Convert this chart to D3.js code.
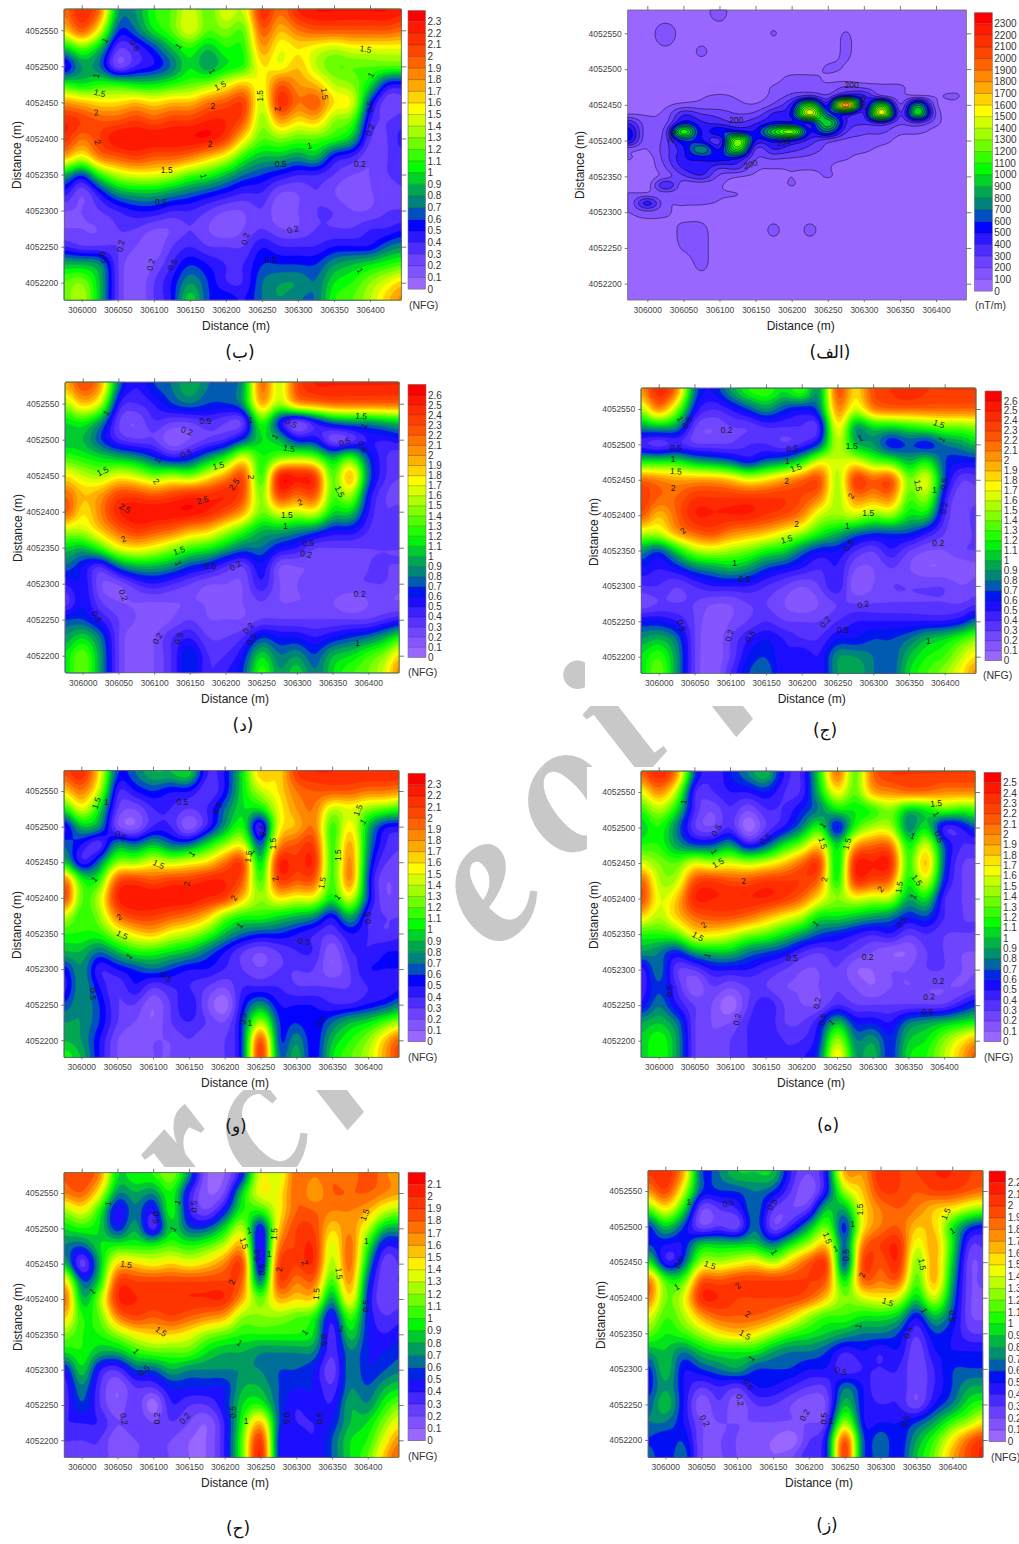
<!DOCTYPE html>
<html><head><meta charset="utf-8">
<script src="https://cdn.jsdelivr.net/npm/d3@7/dist/d3.min.js"></script>
<style>html,body{margin:0;padding:0;background:#fff;overflow:hidden}svg{display:block}</style>
</head><body><svg id="c" width="1019" height="1544"></svg>
<script>
const eastings=[305975,306000,306025,306050,306075,306100,306125,306150,306175,306200,306225,306250,306275,306300,306325,306350,306375,306400,306425,306450];
const northings=[4052575,4052550,4052525,4052500,4052475,4052450,4052425,4052400,4052375,4052350,4052325,4052300,4052275,4052250,4052225,4052200,4052175];
const magNorthings=[4052575,4052550,4052525,4052500,4052487.5,4052475,4052462.5,4052450,4052437.5,4052425,4052412.5,4052400,4052387.5,4052375,4052362.5,4052350,4052337.5,4052325,4052312.5,4052300,4052275,4052250,4052225,4052200,4052175];
const xTicks=[306000,306050,306100,306150,306200,306250,306300,306350,306400];
const yTicks=[4052200,4052250,4052300,4052350,4052400,4052450,4052500,4052550];
const stopFractions=[0,0.09,0.17,0.22,0.26,0.30,0.35,0.435,0.55,0.65,0.74,0.85,0.93,1];
const stopColors=["#9966ff","#6a40ff","#3018ff","#0000ff","#0050c0","#008080","#00a850","#00ff00","#90ff00","#ffff00","#ffa800","#ff5000","#ff2800","#ff0000"];
const watermarkLetters=["r","c","h","v","e","o","i","f"];
const watermarkAnchors=[[190,1160],[262,1132],[345,1062],[392,985],[490,892],[568,800],[622,730],[692,655]];

const gridB=[
[1.9,2.2,1.9,0.8,0.8,1.1,1.2,1.5,1.2,1.5,1.4,2.2,1.9,2.2,2.3,2.3,2.3,2.3,2.3,2.2],
[1.6,2.0,1.5,0.6,0.7,1.0,1.2,1.5,1.2,1.3,1.2,2.0,1.7,1.9,2.0,2.0,2.0,2.0,2.0,1.9],
[0.9,1.2,0.9,0.3,0.4,0.6,0.9,1.1,0.9,1.1,1.1,1.8,1.5,1.6,1.5,1.4,1.5,1.5,1.5,1.5],
[0.4,0.8,0.7,0.2,0.4,0.5,0.7,1.0,0.8,1.0,1.1,1.6,1.5,1.7,1.4,1.2,1.2,1.2,1.2,1.2],
[1.1,1.0,1.1,1.1,1.0,1.0,1.1,1.2,1.3,1.5,1.7,1.5,2.0,1.8,1.7,1.4,1.3,1.0,0.5,0.5],
[1.8,1.7,1.6,1.6,1.7,1.6,1.7,1.7,1.9,2.0,2.1,1.4,2.2,1.9,2.0,1.6,1.5,0.6,0.2,0.3],
[2.2,2.1,2.0,2.0,2.1,2.0,2.1,2.1,2.2,2.2,2.0,1.3,1.8,1.6,1.7,1.3,1.2,0.4,0.3,0.4],
[2.2,1.9,2.1,2.3,2.3,2.3,2.3,2.3,2.3,2.1,1.6,1.2,1.3,1.2,1.2,1.1,0.9,0.3,0.3,0.5],
[1.8,1.5,1.9,2.0,2.1,2.0,2.0,1.9,1.7,1.5,1.1,0.9,0.9,0.8,0.9,0.5,0.4,0.2,0.3,0.4],
[0.9,0.6,1.1,1.4,1.5,1.5,1.4,1.2,1.1,0.9,0.7,0.6,0.5,0.4,0.4,0.3,0.2,0.2,0.3,0.4],
[0.5,0.2,0.5,0.8,0.9,0.9,0.8,0.7,0.6,0.5,0.4,0.4,0.2,0.2,0.3,0.2,0.1,0.2,0.2,0.3],
[0.2,0.2,0.3,0.4,0.5,0.5,0.4,0.4,0.3,0.2,0.2,0.3,0.1,0.2,0.3,0.3,0.2,0.2,0.3,0.3],
[0.2,0.2,0.2,0.3,0.3,0.2,0.2,0.3,0.2,0.1,0.2,0.3,0.2,0.2,0.3,0.3,0.3,0.4,0.4,0.5],
[0.4,0.3,0.3,0.3,0.2,0.1,0.3,0.4,0.3,0.3,0.3,0.5,0.4,0.4,0.4,0.5,0.5,0.5,0.7,0.8],
[0.9,0.9,0.8,0.3,0.1,0.2,0.4,0.6,0.5,0.4,0.4,0.6,0.6,0.6,0.6,0.8,0.9,1.0,1.1,1.2],
[1.2,1.3,0.9,0.3,0.1,0.3,0.5,0.8,0.6,0.4,0.4,0.7,0.8,0.8,0.7,1.0,1.1,1.3,1.5,1.7],
[1.2,1.4,0.9,0.3,0.1,0.3,0.5,1.0,0.6,0.6,0.5,0.7,0.8,0.7,0.7,1.1,1.2,1.4,1.7,1.9]];
const gridD=[
[1.9,2.3,2.0,0.8,0.5,0.7,0.8,1.0,0.8,0.8,0.9,2.2,1.6,2.3,2.5,2.5,2.5,2.5,2.5,2.5],
[1.5,1.9,1.6,0.5,0.4,0.5,0.7,0.8,0.7,0.7,0.9,2.0,1.5,2.0,2.1,2.2,2.2,2.2,2.2,2.2],
[1.1,1.2,0.9,0.3,0.2,0.4,0.3,0.3,0.4,0.3,0.3,1.3,0.6,0.2,0.5,0.8,0.9,0.9,1.0,1.1],
[1.0,1.0,0.7,0.4,0.3,0.3,0.1,0.2,0.3,0.4,0.7,1.1,1.0,0.6,0.6,0.2,0.3,0.5,0.5,0.6],
[1.3,1.2,1.1,1.0,0.9,0.7,0.5,0.6,0.9,1.2,1.7,1.2,1.4,1.5,1.4,1.0,1.3,0.7,0.4,0.3],
[1.8,1.6,1.5,1.7,1.6,1.4,1.5,1.4,1.7,2.0,2.3,1.2,2.5,2.5,2.4,1.3,2.0,0.8,0.4,0.3],
[2.2,1.9,2.0,2.3,2.3,2.2,2.3,2.4,2.4,2.5,2.3,1.4,2.4,2.2,2.3,1.3,1.6,0.6,0.3,0.2],
[2.3,1.8,2.1,2.5,2.6,2.6,2.6,2.6,2.5,2.3,2.0,1.4,1.7,1.6,1.7,1.1,1.1,0.5,0.3,0.4],
[1.6,1.6,1.9,2.2,2.4,2.3,2.2,2.0,1.9,1.6,1.3,1.0,1.0,0.9,0.8,0.6,0.6,0.4,0.3,0.4],
[1.1,1.0,1.3,1.7,1.8,1.7,1.5,1.3,1.2,1.0,0.8,0.8,0.6,0.5,0.3,0.3,0.3,0.3,0.3,0.3],
[0.8,0.6,0.4,0.8,1.0,1.0,0.9,0.7,0.6,0.4,0.3,0.6,0.2,0.2,0.2,0.2,0.2,0.3,0.3,0.3],
[0.5,0.6,0.2,0.2,0.4,0.5,0.4,0.3,0.2,0.2,0.2,0.5,0.2,0.2,0.3,0.3,0.3,0.3,0.3,0.2],
[0.3,0.6,0.3,0.2,0.2,0.2,0.2,0.2,0.2,0.2,0.2,0.3,0.2,0.2,0.2,0.2,0.1,0.2,0.2,0.2],
[0.7,0.7,0.5,0.3,0.2,0.1,0.2,0.3,0.2,0.2,0.2,0.3,0.3,0.3,0.3,0.3,0.3,0.3,0.4,0.5],
[0.9,1.1,0.8,0.3,0.1,0.2,0.4,0.5,0.3,0.3,0.4,0.7,0.6,0.6,0.5,0.6,0.7,0.8,1.0,1.3],
[1.1,1.4,0.9,0.3,0.1,0.2,0.4,0.7,0.4,0.4,0.6,1.1,0.8,0.9,0.7,1.0,1.1,1.3,1.5,2.0],
[1.1,1.4,0.9,0.3,0.1,0.2,0.4,0.7,0.4,0.5,0.7,1.3,0.9,1.1,0.8,1.1,1.3,1.4,1.7,2.3]];
const gridJ=[
[2.0,2.5,2.1,0.8,0.6,0.9,1.2,1.3,1.1,1.3,0.9,2.3,1.8,2.3,2.4,2.5,2.4,2.4,2.4,2.4],
[1.5,2.1,1.5,0.6,0.4,0.5,0.7,0.9,0.7,0.6,0.8,2.1,1.6,2.1,2.2,2.2,2.2,2.2,2.2,2.2],
[0.9,1.0,0.9,0.3,0.2,0.3,0.3,0.4,0.4,0.4,0.4,1.8,0.9,1.1,1.1,1.2,1.3,1.4,1.4,1.5],
[0.4,0.3,0.4,0.3,0.3,0.3,0.4,0.4,0.3,0.4,0.7,1.6,1.0,0.9,0.6,0.7,0.6,0.8,0.9,1.1],
[1.2,1.2,1.2,1.0,0.9,0.8,0.6,0.8,0.9,1.2,1.7,1.6,1.7,1.4,1.3,1.0,1.2,0.7,0.6,0.6],
[2.2,2.1,2.0,2.0,2.0,1.9,1.7,1.8,2.0,2.2,2.3,1.5,2.4,2.2,2.3,1.4,1.7,0.7,0.3,0.4],
[2.4,2.2,2.2,2.4,2.4,2.4,2.4,2.4,2.4,2.3,2.1,1.5,2.1,2.0,2.1,1.3,1.5,0.5,0.2,0.3],
[2.3,1.9,2.2,2.5,2.5,2.5,2.5,2.4,2.3,2.1,1.6,1.5,1.6,1.4,1.5,1.1,1.1,0.4,0.2,0.5],
[1.6,1.6,2.0,2.2,2.3,2.1,2.0,1.9,1.7,1.5,1.2,1.0,0.8,0.7,0.7,0.7,0.5,0.3,0.2,0.4],
[0.9,0.7,1.1,1.5,1.6,1.5,1.4,1.2,1.1,0.8,0.6,0.6,0.4,0.3,0.5,0.3,0.2,0.2,0.3,0.3],
[0.6,0.5,0.6,0.8,0.9,1.0,0.9,0.7,0.6,0.5,0.4,0.5,0.2,0.2,0.3,0.2,0.1,0.1,0.1,0.2],
[0.4,0.4,0.3,0.4,0.5,0.5,0.5,0.4,0.3,0.2,0.3,0.5,0.1,0.2,0.3,0.3,0.3,0.3,0.2,0.3],
[0.2,0.3,0.3,0.3,0.2,0.2,0.3,0.3,0.2,0.1,0.2,0.3,0.3,0.3,0.3,0.3,0.3,0.3,0.3,0.4],
[0.6,0.6,0.5,0.3,0.1,0.2,0.3,0.4,0.3,0.3,0.3,0.4,0.5,0.5,0.5,0.5,0.5,0.5,0.6,0.9],
[0.9,1.0,0.8,0.3,0.1,0.3,0.5,0.6,0.5,0.4,0.4,0.6,0.6,0.7,0.7,0.8,1.0,1.1,1.3,1.5],
[1.1,1.3,0.9,0.3,0.1,0.3,0.6,0.7,0.5,0.6,0.5,0.9,0.9,0.8,0.7,1.0,1.2,1.3,1.6,1.9],
[1.1,1.4,0.9,0.3,0.1,0.4,0.7,0.8,0.5,0.6,0.5,0.9,1.0,0.8,0.7,1.1,1.3,1.5,1.8,2.2]];
const gridH=[
[2.1,2.4,2.0,0.7,0.4,0.6,0.8,1.0,0.5,0.4,1.1,2.1,1.3,2.1,2.3,2.3,2.3,2.3,2.3,2.3],
[1.6,2.0,1.5,0.4,0.4,0.5,0.5,0.6,0.4,0.4,1.0,1.7,1.3,1.9,2.0,2.1,2.1,2.0,2.0,2.0],
[1.2,1.5,1.1,0.4,0.2,0.4,0.2,0.4,0.4,0.6,0.8,1.1,1.1,1.2,1.4,1.0,1.1,1.3,1.2,1.3],
[1.0,1.2,0.8,0.3,0.2,0.4,0.0,0.3,0.5,0.8,1.2,0.5,1.2,1.5,1.5,0.8,1.1,0.4,0.5,0.8],
[1.2,1.2,0.9,0.7,0.7,0.9,0.5,0.7,1.1,1.4,1.8,1.0,1.9,2.1,2.1,1.1,1.6,0.7,0.4,0.4],
[1.6,1.4,1.3,1.6,1.5,1.6,1.5,1.6,1.8,2.1,2.3,1.0,2.4,2.4,2.4,1.2,1.9,0.7,0.3,0.3],
[2.2,1.5,1.5,2.2,2.3,2.2,2.2,2.3,2.3,2.3,2.1,1.1,2.3,2.2,2.1,1.1,1.6,0.6,0.3,0.2],
[2.3,1.6,1.8,2.4,2.4,2.4,2.4,2.4,2.3,2.1,1.7,1.4,1.6,1.5,1.5,0.9,1.1,0.4,0.3,0.3],
[1.8,1.5,1.8,2.1,2.2,2.2,2.1,1.9,1.7,1.5,1.1,1.1,1.0,0.9,0.8,0.6,0.7,0.4,0.3,0.3],
[1.2,1.2,1.3,1.7,1.7,1.6,1.4,1.3,1.1,0.9,0.7,0.6,0.5,0.4,0.5,0.3,0.4,0.3,0.3,0.3],
[0.9,0.8,0.6,0.9,1.0,1.0,0.8,0.7,0.6,0.4,0.3,0.4,0.3,0.2,0.1,0.1,0.3,0.3,0.2,0.2],
[0.4,0.8,0.3,0.3,0.5,0.5,0.5,0.4,0.3,0.2,0.2,0.3,0.1,0.1,0.2,0.2,0.3,0.3,0.2,0.2],
[0.4,0.7,0.4,0.1,0.3,0.2,0.3,0.3,0.2,0.2,0.2,0.3,0.2,0.1,0.2,0.2,0.2,0.2,0.2,0.3],
[0.5,0.8,0.5,0.3,0.2,0.0,0.3,0.5,0.3,0.2,0.2,0.4,0.3,0.3,0.3,0.3,0.3,0.3,0.5,0.7],
[0.9,1.0,0.8,0.3,0.2,0.2,0.4,0.5,0.3,0.3,0.5,1.0,0.6,0.6,0.5,0.8,0.9,1.0,1.1,1.2],
[1.0,1.2,0.9,0.3,0.2,0.3,0.4,0.5,0.4,0.4,0.6,1.5,0.8,0.9,0.6,1.0,1.1,1.4,1.7,2.0],
[1.0,1.2,0.9,0.3,0.2,0.3,0.4,0.5,0.4,0.5,0.7,1.8,0.9,1.0,0.6,1.1,1.2,1.5,1.9,2.3]];
const gridV=[
[2.0,2.2,1.6,0.6,0.7,0.9,0.9,1.0,0.4,0.5,1.0,1.7,1.6,2.1,2.2,2.2,2.2,2.2,2.2,2.2],
[1.6,1.9,1.4,0.4,0.5,0.6,0.5,0.5,0.3,0.5,1.0,1.4,1.6,1.9,2.0,2.0,2.0,1.9,1.9,1.8],
[1.0,1.5,1.0,0.3,0.2,0.4,0.4,0.3,0.4,0.7,1.0,1.0,1.5,1.8,1.9,1.4,1.5,1.3,1.2,1.1],
[0.4,0.9,0.8,0.2,0.1,0.4,0.4,0.1,0.4,0.8,1.1,0.3,1.5,1.7,1.9,1.1,1.6,0.9,0.5,0.5],
[0.7,0.5,0.3,0.8,0.7,0.9,0.7,0.7,1.0,1.3,1.5,0.6,1.8,2.0,2.1,1.1,1.8,0.8,0.4,0.3],
[1.0,0.4,0.7,1.3,1.3,1.5,1.4,1.5,1.6,1.9,2.1,0.9,2.2,2.1,2.2,1.1,1.9,0.7,0.3,0.3],
[2.0,1.1,1.1,2.0,2.1,2.0,2.1,2.1,2.2,2.2,2.0,1.1,2.1,2.0,2.0,1.1,1.9,0.6,0.2,0.3],
[2.2,1.2,1.4,2.2,2.3,2.3,2.3,2.3,2.2,2.1,1.7,1.3,1.6,1.5,1.5,1.0,1.5,0.6,0.2,0.3],
[1.5,1.1,1.3,1.9,2.1,2.1,2.0,1.9,1.7,1.3,1.1,1.1,1.0,0.9,0.8,0.5,0.9,0.4,0.3,0.3],
[1.1,1.1,1.1,1.4,1.6,1.7,1.5,1.4,1.2,0.9,0.7,0.6,0.6,0.5,0.4,0.3,0.5,0.4,0.3,0.4],
[0.9,0.9,0.7,0.9,1.1,1.1,1.0,0.9,0.7,0.5,0.3,0.2,0.3,0.4,0.4,0.1,0.4,0.4,0.5,0.5],
[0.5,0.8,0.4,0.5,0.6,0.7,0.6,0.5,0.5,0.4,0.3,0.2,0.3,0.3,0.3,0.1,0.3,0.5,0.5,0.5],
[0.4,0.8,0.5,0.3,0.5,0.3,0.4,0.4,0.3,0.2,0.4,0.4,0.4,0.3,0.3,0.3,0.3,0.4,0.4,0.5],
[0.6,0.8,0.6,0.3,0.3,0.1,0.3,0.5,0.2,0.0,0.5,0.8,0.5,0.5,0.5,0.4,0.4,0.5,0.6,0.8],
[0.8,0.8,0.6,0.3,0.2,0.1,0.3,0.4,0.3,0.2,0.6,1.4,0.6,0.6,0.5,0.7,0.9,1.0,1.2,1.4],
[0.9,0.8,0.5,0.2,0.1,0.2,0.2,0.3,0.2,0.3,0.6,2.1,0.6,0.8,0.5,0.9,1.1,1.3,1.7,2.1],
[1.1,0.9,0.5,0.2,0.1,0.2,0.2,0.3,0.2,0.3,0.6,2.2,0.7,0.9,0.5,1.0,1.2,1.4,1.8,2.2]];
const gridZ=[
[2.0,2.1,1.7,0.6,0.7,0.9,0.9,0.9,0.4,0.2,0.5,1.7,1.7,2.1,2.0,2.0,2.1,2.1,2.0,2.0],
[1.7,2.0,1.4,0.6,0.6,0.6,0.7,0.6,0.3,0.1,0.5,1.3,1.6,2.0,2.0,1.9,2.0,2.0,1.9,1.8],
[1.1,1.5,1.0,0.2,0.3,0.4,0.7,0.3,0.2,0.3,0.9,0.8,1.5,1.8,1.9,1.8,1.6,1.5,1.3,1.2],
[0.5,0.9,0.6,0.2,0.3,0.2,0.7,0.2,0.4,0.8,1.2,0.5,1.5,1.8,1.9,1.6,1.6,1.0,0.6,0.5],
[0.6,0.5,0.5,0.9,0.9,0.9,0.9,0.7,1.0,1.3,1.6,0.6,1.8,2.0,2.1,1.4,1.7,1.0,0.3,0.4],
[1.1,0.4,0.6,1.3,1.3,1.4,1.5,1.3,1.6,1.9,2.0,0.5,2.0,1.9,2.1,1.2,1.7,0.9,0.2,0.3],
[1.9,1.1,1.1,1.9,1.9,2.0,2.0,2.0,2.0,2.0,1.9,0.9,1.9,1.8,1.9,1.1,1.7,0.8,0.2,0.3],
[1.9,1.2,1.4,2.1,2.1,2.0,2.0,2.0,2.0,1.9,1.6,1.2,1.4,1.5,1.4,0.9,1.4,0.7,0.2,0.2],
[1.5,1.1,1.3,1.7,1.9,1.9,1.9,1.8,1.6,1.3,1.1,1.1,1.0,1.0,0.9,0.5,0.9,0.6,0.2,0.2],
[1.2,1.0,1.1,1.3,1.5,1.6,1.5,1.3,1.1,1.0,0.9,0.8,0.7,0.7,0.6,0.3,0.6,0.5,0.3,0.3],
[0.8,0.9,0.7,0.9,1.0,1.0,1.0,0.8,0.7,0.7,0.6,0.4,0.5,0.4,0.5,0.2,0.5,0.5,0.5,0.5],
[0.5,0.9,0.5,0.6,0.7,0.8,0.6,0.6,0.6,0.5,0.5,0.3,0.4,0.4,0.4,0.2,0.4,0.6,0.6,0.6],
[0.5,0.8,0.5,0.3,0.4,0.3,0.5,0.5,0.4,0.3,0.3,0.7,0.5,0.3,0.4,0.2,0.4,0.6,0.8,0.8],
[0.6,0.9,0.5,0.1,0.3,0.1,0.3,0.3,0.2,0.1,0.2,0.9,0.5,0.4,0.4,0.2,0.5,0.7,1.0,1.1],
[0.7,0.7,0.5,0.2,0.2,0.2,0.2,0.2,0.2,0.2,0.3,1.3,0.5,0.5,0.5,0.6,0.8,1.1,1.3,1.6],
[0.6,0.5,0.6,0.2,0.2,0.2,0.1,0.1,0.0,0.3,0.5,2.0,0.6,0.7,0.5,0.8,1.1,1.5,1.9,2.1],
[0.7,0.5,0.7,0.2,0.2,0.2,0.2,0.1,0.2,0.4,0.5,2.1,0.6,0.7,0.5,0.9,1.2,1.7,2.0,2.2]];
const gridC=[
[1.8,1.9,1.7,0.9,1.0,1.0,1.2,0.7,0.1,0.1,0.5,1.4,1.3,1.8,1.7,1.8,1.7,1.9,1.7,1.7],
[1.7,1.8,1.4,0.7,0.8,0.7,1.0,0.4,0.1,0.2,0.9,1.4,1.4,1.8,1.6,1.8,1.8,1.8,1.7,1.6],
[1.2,1.4,1.0,0.4,0.7,0.4,1.0,0.4,0.2,0.5,1.0,1.0,1.4,1.8,1.8,1.7,1.7,1.6,1.3,1.2],
[0.9,1.0,0.9,0.5,0.8,0.3,0.9,0.6,0.6,0.9,1.3,0.4,1.5,1.9,1.9,1.5,1.7,1.3,0.8,0.8],
[0.7,0.6,0.9,1.0,1.0,1.0,1.1,1.0,1.1,1.3,1.6,0.3,1.7,1.9,2.0,1.3,1.8,1.0,0.4,0.5],
[0.9,0.2,0.8,1.5,1.5,1.4,1.5,1.4,1.5,1.7,1.9,0.3,1.9,1.9,2.0,1.2,1.8,0.8,0.2,0.4],
[1.6,0.6,0.9,1.9,1.9,1.9,1.9,1.9,1.9,1.9,1.8,0.6,1.9,1.7,1.8,1.0,1.7,0.6,0.2,0.4],
[1.9,0.8,1.2,2.0,2.0,2.0,2.0,2.0,2.0,2.0,1.6,1.1,1.6,1.5,1.5,0.7,1.5,0.5,0.2,0.3],
[1.6,1.0,1.1,1.7,1.9,1.8,1.9,1.8,1.7,1.6,1.2,1.2,1.2,1.1,1.0,0.4,1.1,0.5,0.3,0.4],
[1.2,1.0,1.0,1.2,1.4,1.5,1.5,1.4,1.2,1.1,1.0,1.0,1.0,1.0,0.9,0.3,0.9,0.5,0.4,0.5],
[0.9,1.0,0.8,0.8,1.0,1.1,1.1,1.1,0.9,0.8,0.8,0.7,0.7,0.7,0.7,0.3,0.7,0.5,0.5,0.6],
[0.4,0.9,0.4,0.3,0.6,0.6,0.8,0.7,0.7,0.7,0.7,0.7,0.6,0.6,0.5,0.2,0.7,0.5,0.6,0.7],
[0.3,0.7,0.3,0.1,0.3,0.3,0.5,0.5,0.5,0.5,0.8,0.8,0.6,0.5,0.5,0.3,0.7,0.6,0.8,0.9],
[0.3,0.6,0.3,0.1,0.3,0.0,0.4,0.3,0.3,0.5,0.9,1.0,0.6,0.4,0.5,0.4,0.8,0.7,1.0,1.2],
[0.4,0.4,0.4,0.2,0.3,0.2,0.3,0.2,0.1,0.4,1.0,1.6,0.6,0.4,0.4,0.5,0.8,0.9,1.2,1.5],
[0.3,0.3,0.3,0.1,0.2,0.2,0.2,0.1,0.1,0.4,1.1,2.0,0.5,0.5,0.4,0.6,0.9,1.0,1.4,1.8],
[0.3,0.2,0.3,0.1,0.2,0.2,0.2,0.1,0.1,0.4,1.1,2.1,0.5,0.5,0.4,0.6,0.9,1.1,1.6,1.9]];
const gridA=[
[70,40,40,40,60,125,40,40,40,40,40,40,40,40,40,40,40,40,40,40],
[40,40,170,40,40,40,40,40,105,40,40,40,105,40,40,40,40,40,40,40],
[40,40,70,40,115,40,40,40,40,40,40,40,115,40,40,40,40,40,40,40],
[40,40,40,40,40,40,40,40,40,40,40,115,90,40,40,40,40,40,40,40],
[40,40,40,40,40,40,40,40,60,130,130,80,60,40,40,40,40,40,40,40],
[40,40,40,40,40,50,50,50,110,150,140,130,210,170,130,120,40,40,40,105],
[50,40,40,50,90,110,90,60,130,230,320,220,500,420,200,120,110,90,120,40],
[60,50,80,130,130,140,120,110,220,450,1100,480,1900,450,1100,200,800,130,60,40],
[90,90,130,380,300,260,200,230,420,550,1500,650,550,400,1500,300,1000,190,40,40],
[380,130,170,550,420,360,300,380,520,520,520,1000,420,320,420,220,300,130,40,40],
[550,130,260,1100,500,600,560,520,1000,1300,520,700,320,220,220,130,130,60,40,40],
[500,110,260,600,520,360,1300,500,540,520,360,240,170,170,150,60,40,40,40,40],
[130,100,260,480,800,500,1100,280,400,340,260,170,130,130,60,40,40,40,40,40],
[110,50,250,480,520,550,500,210,210,190,170,130,110,50,40,40,40,40,40,40],
[40,40,200,420,480,320,340,130,110,110,120,110,40,40,40,40,40,40,40,40],
[40,40,150,280,380,180,110,80,60,100,50,110,40,40,40,40,40,40,40,40],
[40,50,400,130,120,110,40,40,40,105,40,40,40,40,40,40,40,40,40,40],
[110,130,130,130,130,110,105,40,40,40,40,40,40,40,40,40,40,40,40,40],
[120,450,130,115,110,90,40,40,40,40,40,40,40,40,40,40,40,40,40,40],
[100,160,120,60,60,40,40,40,40,40,40,40,40,40,40,40,40,40,40,40],
[40,40,40,130,130,40,100,40,120,40,120,40,40,40,40,40,40,40,40,40],
[40,40,40,110,130,40,40,40,40,40,40,40,40,40,40,40,40,40,40,40],
[40,40,40,40,120,40,100,40,40,40,40,40,40,40,40,40,40,40,40,40],
[40,40,40,40,40,40,40,40,40,40,40,40,40,40,40,40,40,40,40,40],
[40,40,40,40,40,40,40,40,40,40,40,40,40,40,40,40,40,40,40,40]];

const labelsB=[[32,536,"1",-60],[74,529,"0.5",60],[134,528,"1",-50],[181,493,"1",60],[20,487,"1",-75],[25,463,"1.5",15],[20,436,"2",-10],[22,395,"2",70],[182,445,"2",0],[192,473,"1.5",-25],[178,392,"2",0],[118,356,"1.5",0],[169,348,"1",80],[110,312,"0.5",0],[248,459,"1.5",-90],[272,441,"2",80],[337,462,"1.5",80],[316,390,"1",-10],[276,365,"0.5",0],[386,365,"0.2",0],[400,444,"0.5",-85],[400,412,"0.2",-70],[401,488,"1",-60],[394,524,"1.5",10],[54,251,"0.2",-80],[30,235,"0.5",70],[96,225,"0.2",-75],[126,225,"0.5",-60],[227,261,"0.2",-75],[293,274,"0.2",-15],[263,232,"0.5",0],[386,217,"1",60]];
const labelsD=[[33,537,"1",-60],[172,526,"0.5",0],[146,512,"0.2",20],[235,528,"1",0],[292,523,"0.5",30],[269,504,"1",-60],[289,488,"1.5",10],[367,497,"0.5",-20],[392,490,"0.5",60],[390,533,"1.5",5],[394,519,"1",-60],[145,481,"0.5",-20],[105,471,"1",-60],[190,464,"1.5",-15],[28,456,"1.5",-25],[103,442,"2",50],[235,448,"2",90],[212,438,"2.5",-55],[168,416,"2.5",-15],[59,405,"2.5",30],[57,362,"2",-25],[304,413,"2",-25],[286,396,"1.5",0],[284,380,"1",0],[360,428,"1.5",65],[135,346,"1.5",-20],[134,328,"1",70],[179,324,"0.5",0],[214,325,"0.2",-30],[316,357,"0.5",0],[313,341,"0.2",10],[388,286,"0.2",0],[57,284,"0.2",70],[20,254,"0.5",60],[105,224,"0.2",-60],[135,224,"0.5",-70],[232,238,"0.2",-50],[237,223,"0.5",-60],[385,217,"1",0]];
const labelsJ=[[30,536,"1",60],[40,531,"0.5",-60],[95,520,"0.2",0],[24,495,"0.5",0],[20,480,"1",0],[24,462,"1.5",5],[20,438,"2",0],[34,378,"2",-40],[187,494,"0.5",-5],[180,477,"1",0],[192,467,"1.5",-20],[179,448,"2",0],[193,388,"2",0],[179,366,"1.5",-15],[106,333,"1",0],[120,310,"0.5",0],[282,509,"1",-20],[270,498,"1.5",0],[269,427,"2",-60],[293,403,"1.5",0],[264,384,"1",0],[266,357,"0.5",-50],[392,529,"1.5",20],[396,507,"1",-60],[363,442,"1.5",80],[386,436,"1",0],[399,444,"0.5",-80],[399,410,"0.2",-80],[391,360,"0.2",0],[286,274,"0.2",-15],[233,249,"0.2",-50],[258,238,"0.5",0],[32,244,"0.5",70],[99,230,"0.2",-75],[128,229,"0.5",-60],[377,222,"1",0]];
const labelsH=[[35,536,"1",-80],[81,496,"0.5",-60],[150,484,"0.5",-40],[230,503,"1",-50],[230,478,"1.5",75],[264,477,"1.5",-75],[356,488,"1",20],[389,534,"1.5",-5],[389,519,"1",60],[393,487,"0.5",70],[78,466,"1",60],[83,450,"1.5",-30],[119,425,"2",-10],[232,427,"2",-80],[311,413,"2",-50],[337,416,"1.5",-80],[362,426,"1.5",55],[357,403,"1",-60],[63,363,"2",-40],[55,347,"1.5",30],[68,320,"1",-70],[220,365,"1",-45],[341,367,"0.5",-55],[187,316,"0.5",0],[293,318,"0.2",0],[392,284,"0.2",0],[379,262,"0.2",-5],[377,241,"0.5",0],[16,270,"0.5",-90],[110,230,"0.2",-80],[222,253,"0.2",-80],[230,230,"0.5",-80],[242,226,"1",-40]];
const labelsV=[[21,533,"1.5",-70],[35,535,"1",0],[55,487,"0.5",30],[141,535,"0.5",0],[190,526,"0.5",-60],[254,494,"0.5",-90],[267,476,"1.5",-90],[239,463,"1",50],[233,458,"1.5",-85],[154,462,"1",-50],[108,447,"1.5",25],[18,426,"1",-50],[147,420,"2",-80],[213,400,"2",-60],[271,427,"2",70],[53,373,"2",-35],[57,348,"1.5",25],[67,318,"1",-50],[221,361,"1",-50],[119,289,"0.5",40],[311,339,"0.5",10],[336,421,"1.5",-80],[358,460,"1.5",-90],[357,401,"1",-50],[386,523,"1.5",-70],[393,507,"1",-60],[400,372,"0.5",-90],[16,265,"0.5",90],[226,230,"0.5",-85],[235,224,"1",0],[334,226,"0.5",-50]];
const labelsC=[[37,535,"1",-80],[104,515,"0.5",90],[134,537,"1",-70],[128,499,"1",-60],[157,531,"0.5",-90],[234,497,"1",-10],[227,479,"1.5",75],[269,492,"1.5",-85],[262,464,"1",0],[245,462,"0.2",-90],[252,442,"0.5",-90],[62,449,"1.5",10],[15,411,"1",-40],[210,424,"2",-70],[276,442,"2",-85],[312,451,"2",70],[328,407,"1.5",-85],[360,436,"1.5",85],[398,482,"1",0],[396,519,"1.5",-70],[398,390,"0.5",-90],[363,358,"1",20],[312,353,"1",-50],[339,342,"0.5",90],[111,354,"1.5",35],[221,338,"1",40],[76,326,"1",50],[87,299,"0.5",-40],[59,230,"0.2",80],[106,231,"0.2",-90],[144,231,"0.2",-50],[212,240,"0.5",-90],[230,228,"1",0],[287,231,"0.5",90],[334,231,"0.5",-90]];
const labelsZ=[[33,535,"1",0],[88,533,"0.5",-15],[149,531,"0.5",-60],[226,484,"1.5",70],[237,469,"1",-20],[272,524,"1.5",-90],[261,503,"1",0],[252,460,"0.5",-90],[274,432,"2",-70],[310,394,"1.5",20],[358,447,"1.5",80],[391,518,"1.5",-65],[400,494,"1",-30],[361,382,"1",60],[400,374,"0.5",90],[339,351,"0.5",-70],[269,360,"1",-80],[245,297,"0.5",15],[62,446,"1.5",20],[19,450,"0.5",-65],[16,415,"1",-30],[101,417,"2",-40],[115,377,"2",30],[111,348,"1.5",30],[120,315,"1",-50],[116,278,"0.5",60],[104,256,"0.2",80],[55,227,"0.2",60],[194,235,"0.2",-60],[221,230,"0.5",-90],[231,226,"1",0],[335,227,"0.5",-70],[152,464,"1",60]];
const labelsA=[[123,429,"200",0],[283,478,"200",0],[143,367,"200",-15],[189,398,"200",-10],[34,406,"200",-80],[299,452,"200",-90]];

const panels=[
{grid:gridB,ys:northings,labels:labelsB,max:2.3,step:0.1,unit:"(NFG)",cap:"(ب)",box:[64.3,401.3,9.3,300],xt:[81.7,370],yt:[30.3,282.7],cb:[408,425.5,10.5,289,21.5],title:[17,155],xl:[236,326],capXY:[240,352],unitX:409,unitY:305},
{grid:gridA,ys:magNorthings,labels:labelsA,max:2300,step:100,unit:"(nT/m)",cap:"(الف)",box:[627.7,966.3,10,300],xt:[647.3,936],yt:[33.3,283.7],cb:[974.3,992.3,12.7,291,23.7],title:[580,165],xl:[800.7,326],capXY:[830,352],unitX:975,unitY:305,lines:true},
{grid:gridD,ys:northings,labels:labelsD,max:2.6,step:0.1,unit:"(NFG)",cap:"(د)",box:[65.3,399,382.3,672.7],xt:[82.7,368.3],yt:[403.7,655.7],cb:[408,426,384.3,657.3,395],title:[18,528],xl:[235,699],capXY:[243,725],unitX:408,unitY:672,bg:[0,442,375,708]},
{grid:gridJ,ys:northings,labels:labelsJ,max:2.6,step:0.1,unit:"(NFG)",cap:"(ج)",box:[641.3,975.7,388.3,673.3],xt:[658.7,944.7],yt:[409,656.7],cb:[985,1001.7,391,660.7,401],title:[594,532],xl:[811.7,699],capXY:[825,730],unitX:983,unitY:675,bg:[585,1019,375,706]},
{grid:gridV,ys:northings,labels:labelsV,max:2.3,step:0.1,unit:"(NFG)",cap:"(و)",box:[64.3,398.7,770.7,1057.3],xt:[81.3,368],yt:[791,1040.3],cb:[408,425.3,773.3,1041.7,784.7],title:[17,925],xl:[235,1082.7],capXY:[236,1126],unitX:408,unitY:1057,bg:[0,441,765,1090]},
{grid:gridH,ys:northings,labels:labelsH,max:2.5,step:0.1,unit:"(NFG)",cap:"(ه)",box:[641.3,975,771.3,1057.3],xt:[658.7,944],yt:[792,1040.7],cb:[984,1001,772.3,1041.7,782.7],title:[594,915],xl:[811,1083],capXY:[828,1125],unitX:984,unitY:1057,bg:[587,1019,767,1090]},
{grid:gridC,ys:northings,labels:labelsC,max:2.1,step:0.1,unit:"(NFG)",cap:"(ح)",box:[64.3,398.7,1172.7,1457.3],xt:[81.7,367.7],yt:[1193,1440.3],cb:[408,425.3,1172.3,1440.7,1184.3],title:[18,1317],xl:[235,1483],capXY:[238,1528],unitX:408,unitY:1456,bg:[0,441,1167,1500]},
{grid:gridZ,ys:northings,labels:labelsZ,max:2.2,step:0.1,unit:"(NFG)",cap:"(ز)",box:[648.3,982.7,1170.7,1457.3],xt:[665.3,952.3],yt:[1191,1440],cb:[989,1005.7,1171,1441.7,1182.3],title:[601,1315],xl:[819,1482.7],capXY:[827,1525],unitX:991,unitY:1457,bg:[587,1019,1165,1500]}
];

const svg=d3.select("#c");
const FONT="'Liberation Sans',Arial,sans-serif";
const ramp=d3.scaleLinear().domain(stopFractions).range(stopColors).interpolate(d3.interpolateRgb).clamp(true);

svg.append("g").attr("font-family","'Liberation Serif',serif").attr("font-style","italic").attr("font-weight","bold")
  .attr("font-size",190).attr("fill","#c8c8c8").attr("text-anchor","middle")
  .selectAll("text").data(watermarkLetters).join("text")
  .attr("transform",(d,i)=>`translate(${watermarkAnchors[i][0]},${watermarkAnchors[i][1]}) rotate(-48)`)
  .attr("dy","0.25em").text(d=>d);

function catmull(t){const t2=t*t,t3=t2*t;return [0.5*(-t3+2*t2-t),0.5*(3*t3-5*t2+2),0.5*(-3*t3+4*t2+t),0.5*(t3-t2)];}
function sampler(grid,xs,ys){
  const xi=d3.scaleLinear().domain(xs).range(xs.map((_,i)=>i));
  const yi=d3.scaleLinear().domain(ys).range(ys.map((_,i)=>i));
  const R=grid.length-1,C=grid[0].length-1,cl=(v,m)=>v<0?0:v>m?m:v;
  return (X,Y)=>{
    const u=xi(X),v=yi(Y),i=Math.floor(u),j=Math.floor(v),wx=catmull(u-i),wy=catmull(v-j);
    let s=0;
    for(let a=0;a<4;a++){const row=grid[cl(j+a-1,R)];for(let b=0;b<4;b++)s+=wy[a]*wx[b]*row[cl(i+b-1,C)];}
    return s;
  };
}

panels.forEach(p=>{
  const g=svg.append("g");
  if(p.bg) g.append("rect").attr("x",p.bg[0]).attr("y",p.bg[2]).attr("width",p.bg[1]-p.bg[0]).attr("height",p.bg[3]-p.bg[2]).attr("fill","#fff");
  const [x0,x1,y0,y1]=p.box;
  const x=d3.scaleLinear([306000,306400],p.xt);
  const y=d3.scaleLinear([4052550,4052200],p.yt);
  const n=Math.round(x1-x0),m=Math.round(y1-y0);
  const f=sampler(p.grid,eastings,p.ys);
  const vals=new Float64Array(n*m);
  const sx=(x1-x0)/n,sy=(y1-y0)/m;
  for(let j=0;j<m;j++){const Y=y.invert(y0+(j+0.5)*sy);for(let i=0;i<n;i++){vals[j*n+i]=Math.max(0,f(x.invert(x0+(i+0.5)*sx),Y));}}
  if(d3.blur2) d3.blur2({data:vals,width:n,height:m},p.lines?1:3);
  const nLevels=Math.round(p.max/p.step);
  const levels=d3.range(0,nLevels+1).map(k=>k*p.step);
  const colorOf=k=>ramp(k/nLevels);
  g.append("rect").attr("x",x0).attr("y",y0).attr("width",x1-x0).attr("height",y1-y0).attr("fill",colorOf(0));
  const cg=g.append("g").attr("transform",`translate(${x0},${y0}) scale(${sx},${sy})`);
  const gen=d3.contours().size([n,m]).smooth(true).thresholds(levels.slice(1));
  const shapes=gen(vals);
  const path=d3.geoPath();
  cg.selectAll("path").data(shapes).join("path").attr("d",path)
    .attr("fill",(d,i)=>colorOf(i+1))
    .attr("stroke",p.lines?"#000":(d,i)=>colorOf(i+1))
    .attr("stroke-opacity",p.lines?0.9:1)
    .attr("stroke-width",p.lines?0.55:0.3).attr("vector-effect","non-scaling-stroke");
  const lg=g.append("g").attr("font-family",FONT).attr("font-size",8.5).attr("fill","#1a1a1a").attr("text-anchor","middle");
  lg.selectAll("text").data(p.labels).join("text")
    .attr("transform",d=>`translate(${x(306000+d[0])},${y(4052000+d[1])}) rotate(${d[3]})`)
    .attr("dy","0.35em").text(d=>d[2]);
  const tickStyle=s=>{s.select(".domain").remove();s.selectAll("line").attr("stroke","#555").attr("stroke-width",0.8);s.selectAll("text").attr("font-family",FONT).attr("font-size",8.5).attr("fill","#444");};
  g.append("g").attr("transform",`translate(0,${y1})`).call(d3.axisBottom(x).tickValues(xTicks).tickFormat(d3.format("d")).tickSize(2).tickPadding(5)).call(tickStyle);
  g.append("g").attr("transform",`translate(0,${y0})`).call(d3.axisTop(x).tickValues(xTicks).tickFormat("").tickSize(4)).call(tickStyle);
  g.append("g").attr("transform",`translate(${x0},0)`).call(d3.axisLeft(y).tickValues(yTicks).tickFormat(d3.format("d")).tickSize(3).tickPadding(3)).call(tickStyle);
  g.append("g").attr("transform",`translate(${x1},0)`).call(d3.axisRight(y).tickValues(yTicks).tickFormat("").tickSize(5)).call(tickStyle);
  g.append("rect").attr("x",x0).attr("y",y0).attr("width",x1-x0).attr("height",y1-y0).attr("fill","none").attr("stroke","#666").attr("stroke-width",0.8);
  g.append("text").attr("x",p.xl[0]).attr("y",p.xl[1]).attr("dy","0.35em").attr("text-anchor","middle").attr("font-family",FONT).attr("font-size",12).attr("fill","#222").text("Distance (m)");
  g.append("text").attr("transform",`translate(${p.title[0]},${p.title[1]}) rotate(-90)`).attr("dy","0.35em").attr("text-anchor","middle").attr("font-family",FONT).attr("font-size",12).attr("fill","#222").text("Distance (m)");
  const [cx0,cx1,cTop,cBot,cLab]=p.cb;
  const cy=d3.scaleLinear([0,p.max],[cBot,cLab]);
  const bar=g.append("g");
  bar.selectAll("rect").data(levels).join("rect")
    .attr("x",cx0).attr("width",cx1-cx0)
    .attr("y",(d,i)=>i===nLevels?cTop:cy(levels[i+1]))
    .attr("height",(d,i)=>i===nLevels?cy(d)-cTop:cy(d)-cy(levels[i+1])+0.3)
    .attr("fill",(d,i)=>colorOf(i));
  bar.selectAll("line").data(levels.slice(1)).join("line")
    .attr("x1",cx0).attr("x2",cx1).attr("y1",d=>cy(d)).attr("y2",d=>cy(d))
    .attr("stroke","#222").attr("stroke-width",0.5).attr("stroke-opacity",0.55);
  bar.append("rect").attr("x",cx0).attr("y",cTop).attr("width",cx1-cx0).attr("height",cBot-cTop).attr("fill","none").attr("stroke","#777").attr("stroke-width",0.6);
  const fmt=v=>String(+v.toFixed(1));
  g.append("g").attr("font-family",FONT).attr("font-size",10).attr("fill","#333")
    .selectAll("text").data(levels).join("text").attr("x",cx1+2).attr("y",d=>cy(d)).attr("dy","0.35em").text(fmt);
  g.append("text").attr("x",p.unitX).attr("y",p.unitY).attr("dy","0.35em").attr("font-family",FONT).attr("font-size",10.5).attr("fill","#333").text(p.unit);
  g.append("text").attr("x",p.capXY[0]).attr("y",p.capXY[1]).attr("dy","0.35em").attr("text-anchor","middle").attr("direction","rtl")
    .attr("font-family","'DejaVu Sans',serif").attr("font-size",17).attr("fill","#111").text(p.cap);
});
</script></body></html>
